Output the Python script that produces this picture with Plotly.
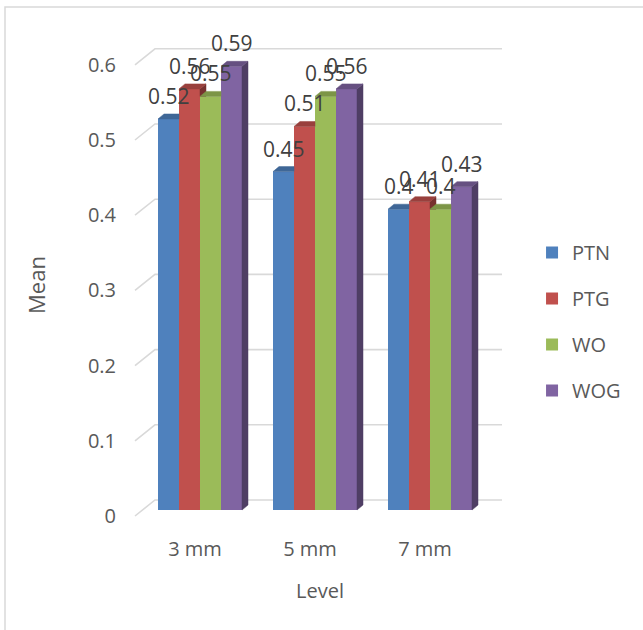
import plotly.graph_objects as go

# ---- data -------------------------------------------------------------
categories = ["3 mm", "5 mm", "7 mm"]
series_names = ["PTN", "PTG", "WO", "WOG"]
ptn = [0.52, 0.45, 0.40]
ptg = [0.56, 0.51, 0.41]
wo = [0.55, 0.55, 0.40]
wog = [0.59, 0.56, 0.43]
y_ticks = [0, 0.1, 0.2, 0.3, 0.4, 0.5, 0.6]

series_values = [ptn, ptg, wo, wog]
front_colors = ["#4F81BD", "#C0504D", "#9BBB59", "#8064A2"]


def shade(hex_color, k):
    h = hex_color.lstrip("#")
    r, g, b = (int(h[i:i + 2], 16) for i in (0, 2, 4))
    return "#{:02x}{:02x}{:02x}".format(int(r * k), int(g * k), int(b * k))


top_colors = [shade(c, 0.80) for c in front_colors]
side_colors = [shade(c, 0.62) for c in front_colors]

# ---- page geometry (px) ----------------------------------------------
W, H = 643, 630
PL, PR, PT, PB = 130, 510, 40, 530          # plot area edges
CAT_PX = 115.0                               # px per category step
VAL_PX = 752.0                               # px per 1.0 of value
BAR_X0, BAR_Y0 = 200.0, 510.0                # bar plane: first category centre / zero line
FRONT_DX, FRONT_DY = -5.0, 6.0               # floor front edge relative to bar plane
WALL_DX, WALL_DY = 20.0, 16.0                # floor depth (front edge -> back wall)
BAR_W_PX = 21.0
DEPTH_DX, DEPTH_DY = 6.0, 5.0                # visible depth of each column
FLOOR_LEFT_PX, WALL_RIGHT_PX = 135.0, 502.0

bar_w = BAR_W_PX / CAT_PX
d = DEPTH_DX / CAT_PX
e = DEPTH_DY / VAL_PX

# axis ranges: x/y = front edge of the floor, x2/y2 = plane of the columns
fx0 = BAR_X0 + FRONT_DX
fy0 = BAR_Y0 + FRONT_DY
x_range = [(PL - fx0) / CAT_PX, (PR - fx0) / CAT_PX]
y_range = [-(PB - fy0) / VAL_PX, (fy0 - PT) / VAL_PX]
x2_range = [(PL - BAR_X0) / CAT_PX, (PR - BAR_X0) / CAT_PX]
y2_range = [-(PB - BAR_Y0) / VAL_PX, (BAR_Y0 - PT) / VAL_PX]

fig = go.Figure()

# ---- floor diagonals + back-wall gridlines ----------------------------
floor_left = (FLOOR_LEFT_PX - fx0) / CAT_PX
wall_left = floor_left + WALL_DX / CAT_PX
wall_right = (WALL_RIGHT_PX - fx0) / CAT_PX
wall_up = WALL_DY / VAL_PX
gx, gy = [], []
for t in y_ticks:
    gx += [floor_left, wall_left, wall_right, None]
    gy += [t, t + wall_up, t + wall_up, None]
fig.add_trace(go.Scatter(
    x=gx, y=gy, mode="lines", line=dict(color="#d9d9d9", width=1.6),
    hoverinfo="skip", showlegend=False, xaxis="x", yaxis="y"))

# ---- column front faces ------------------------------------------------
n = len(series_names)
offsets = [(k - (n - 1) / 2) * bar_w for k in range(n)]
for k, (name, vals) in enumerate(zip(series_names, series_values)):
    fig.add_trace(go.Bar(
        name=name, x=[i + offsets[k] for i in range(len(categories))], y=vals,
        width=bar_w, marker=dict(color=front_colors[k], line=dict(width=0)),
        legendgroup=name, xaxis="x2", yaxis="y2"))


def poly(pts, color):
    xs = [p[0] for p in pts] + [pts[0][0]]
    ys = [p[1] for p in pts] + [pts[0][1]]
    return go.Scatter(x=xs, y=ys, mode="lines", fill="toself", fillcolor=color,
                      line=dict(width=0.5, color=color), hoverinfo="skip",
                      showlegend=False, xaxis="x2", yaxis="y2")


# ---- column tops and right sides, painted left to right ----------------
for i in range(len(categories)):
    for k in range(n):
        v = series_values[k][i]
        x0 = i + offsets[k] - bar_w / 2
        x1 = x0 + bar_w
        nxt = series_values[k + 1][i] if k + 1 < n else None
        if nxt is None or nxt <= v:
            top = [(x0, v), (x1, v), (x1 + d, v + e), (x0 + d, v + e)]
            lo = 0.0 if nxt is None else nxt
            side = [(x1, lo), (x1, v), (x1 + d, v + e),
                    (x1 + d, lo + (e if nxt is None else 0.0))]
        elif nxt >= v + e:
            top = [(x0, v), (x1, v), (x1, v + e), (x0 + d, v + e)]
            side = None
        else:
            xw = x1 + (nxt - v) / e * d
            top = [(x0, v), (x1, v), (x1, nxt), (xw, nxt), (x1 + d, v + e), (x0 + d, v + e)]
            side = None
        if side is not None:
            fig.add_trace(poly(side, side_colors[k]))
        fig.add_trace(poly(top, top_colors[k]))

FONT = "Open Sans"

# ---- value labels -------------------------------------------------------
for k in range(n):
    for i in range(len(categories)):
        v = series_values[k][i]
        fig.add_annotation(
            x=i + offsets[k], y=v, xref="x2", yref="y2", text=f"{v:g}",
            showarrow=False, yshift=23, yanchor="middle",
            font=dict(family=FONT, size=21, color="#404040"))

fig.update_layout(
    width=W, height=H,
    margin=dict(l=PL, r=W - PR, t=PT, b=H - PB),
    paper_bgcolor="white", plot_bgcolor="rgba(0,0,0,0)",
    barmode="overlay",
    font=dict(family=FONT, color="#595959"),
    xaxis=dict(range=x_range, tickvals=list(range(len(categories))), ticktext=categories,
               showgrid=False, zeroline=False, showline=False,
               ticks="outside", ticklen=1, tickcolor="rgba(0,0,0,0)",
               tickfont=dict(size=20, color="#595959"),
               title=dict(text="Level", font=dict(size=20, color="#595959"), standoff=22)),
    yaxis=dict(range=y_range, tickvals=y_ticks, ticktext=[f"{t:g}" for t in y_ticks],
               showgrid=False, zeroline=False, showline=False,
               ticks="outside", ticklen=9, tickcolor="rgba(0,0,0,0)",
               tickfont=dict(size=20, color="#595959"),
               title=dict(text="Mean", font=dict(size=22, color="#595959"), standoff=36)),
    xaxis2=dict(range=x2_range, overlaying="x", visible=False),
    yaxis2=dict(range=y2_range, overlaying="y", visible=False),
    legend=dict(x=1.058, y=0.4255, xanchor="left", yanchor="middle",
                font=dict(family=FONT, size=20, color="#595959"),
                tracegroupgap=17, bgcolor="rgba(0,0,0,0)"),
    shapes=[dict(type="rect", xref="paper", yref="paper",
                 x0=(5 - PL) / (PR - PL), x1=(660 - PL) / (PR - PL),
                 y0=(PB - 650) / (PB - PT), y1=(PB - 7) / (PB - PT),
                 line=dict(color="#d9d9d9", width=1.5), layer="below")],
)

fig.write_html("out.html")
